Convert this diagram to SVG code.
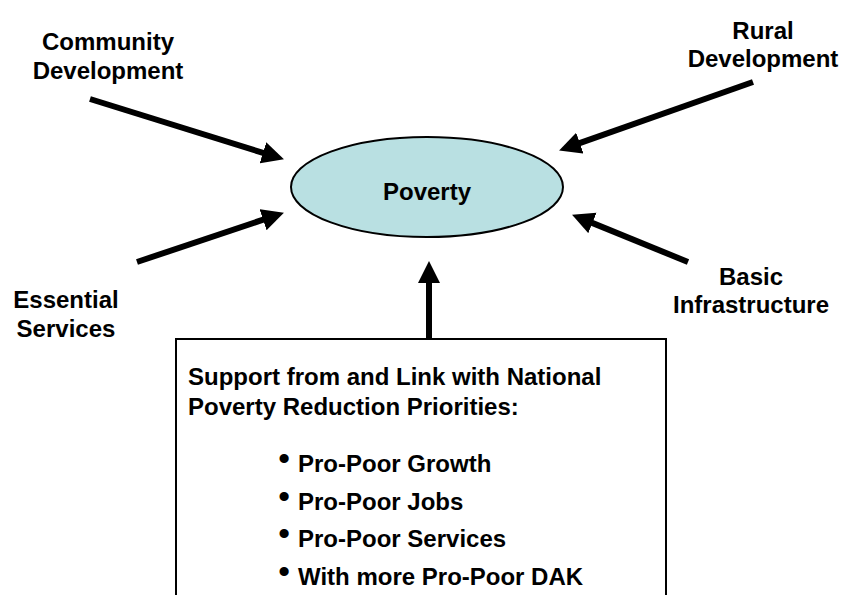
<svg xmlns="http://www.w3.org/2000/svg" width="843" height="595" viewBox="0 0 843 595">
<style>
  text { font-family: "Liberation Sans", Arial, sans-serif; font-weight: bold; font-size: 24px; fill: #000; }
  .c { text-anchor: middle; }
  .bul { font-size: 32px; text-anchor: middle; }
  .arrow { stroke: #000; stroke-width: 6; fill: none; marker-end: url(#head); }
</style>
<defs>
  <marker id="head" markerUnits="userSpaceOnUse" markerWidth="23" markerHeight="23" viewBox="0 0 23 23" refX="1" refY="11" orient="auto">
    <path d="M0,0 L22,11 L0,22 z" fill="#000"/>
  </marker>
</defs>
<rect width="843" height="595" fill="#fff"/>
<g id="connectors">
  <line class="arrow" x1="90" y1="99" x2="263.9" y2="153.1"/>
  <line class="arrow" x1="137" y1="262" x2="264" y2="219.4"/>
  <line class="arrow" x1="753" y1="82" x2="578.9" y2="143.4"/>
  <line class="arrow" x1="688" y1="262" x2="591.5" y2="222.6"/>
  <line class="arrow" x1="429" y1="339" x2="429" y2="282"/>
</g>
<g id="poverty">
  <ellipse cx="427" cy="187" rx="136" ry="50" fill="#b9e0e2" stroke="#000" stroke-width="2"/>
  <text class="c" x="427" y="200">Poverty</text>
</g>
<g id="community">
  <text class="c" x="108" y="50">Community</text>
  <text class="c" x="108" y="79">Development</text>
</g>
<g id="rural">
  <text class="c" x="763" y="39">Rural</text>
  <text class="c" x="763" y="67">Development</text>
</g>
<g id="essential">
  <text class="c" x="66" y="308">Essential</text>
  <text class="c" x="66" y="337">Services</text>
</g>
<g id="basic">
  <text class="c" x="751" y="285">Basic</text>
  <text class="c" x="751" y="313">Infrastructure</text>
</g>
<g id="support">
  <rect x="176" y="339" width="490" height="270" fill="#fff" stroke="#000" stroke-width="2"/>
  <text x="188" y="385">Support from and Link with National</text>
  <text x="188" y="415">Poverty Reduction Priorities:</text>
  <text class="bul" x="284" y="469">•</text>
  <text x="298" y="472">Pro-Poor Growth</text>
  <text class="bul" x="284" y="507">•</text>
  <text x="298" y="510">Pro-Poor Jobs</text>
  <text class="bul" x="284" y="544">•</text>
  <text x="298" y="547">Pro-Poor Services</text>
  <text class="bul" x="284" y="582">•</text>
  <text x="298" y="585">With more Pro-Poor DAK</text>
</g>
</svg>
